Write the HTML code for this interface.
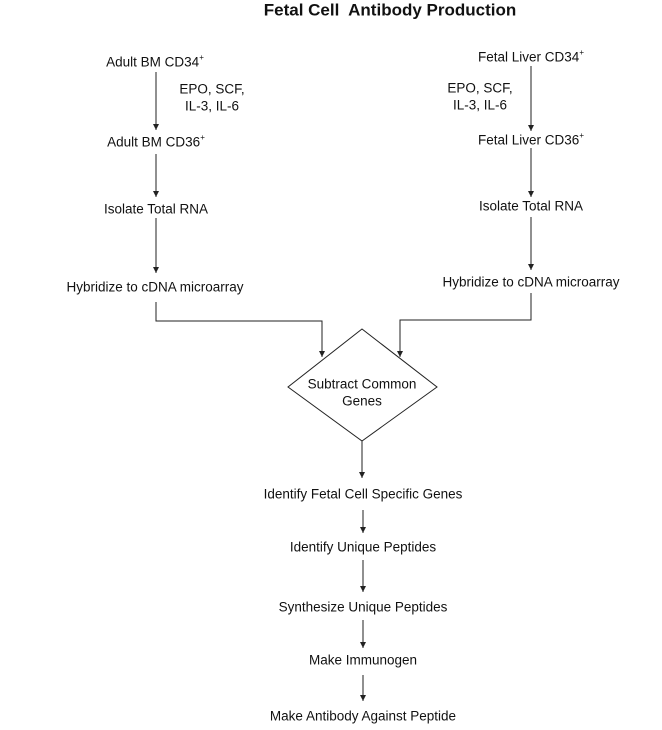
<!DOCTYPE html>
<html><head><style>
body{margin:0;background:#fff;}
svg{display:block;}
text{font-family:"Liberation Sans",Arial,sans-serif;font-size:13.5px;fill:#111;text-anchor:middle;dominant-baseline:middle;}
.t{font-weight:bold;font-size:17px;}
line,polyline,polygon{stroke:#222;stroke-width:1;fill:none;}
</style></head><body>
<svg width="662" height="730" viewBox="0 0 662 730">
<defs><marker id="a" markerWidth="8" markerHeight="8" refX="7" refY="4" orient="auto" markerUnits="userSpaceOnUse"><path d="M1,1 L7,4 L1,7 Z" fill="#222"/></marker></defs>
<text class="t" x="390" y="11" xml:space="preserve">Fetal Cell  Antibody Production</text>

<text x="155" y="63">Adult BM CD34<tspan dy="-5" font-size="8">+</tspan></text>
<line x1="156" y1="72" x2="156" y2="130" marker-end="url(#a)"/>
<text x="212" y="90">EPO, SCF,</text>
<text x="212" y="107">IL-3, IL-6</text>
<text x="156" y="143">Adult BM CD36<tspan dy="-5" font-size="8">+</tspan></text>
<line x1="156" y1="154" x2="156" y2="197" marker-end="url(#a)"/>
<text x="156" y="210">Isolate Total RNA</text>
<line x1="156" y1="218" x2="156" y2="273" marker-end="url(#a)"/>
<text x="155" y="288">Hybridize to cDNA microarray</text>
<polyline points="156,302 156,321 322,321 322,357" marker-end="url(#a)"/>

<text x="531" y="58">Fetal Liver CD34<tspan dy="-5" font-size="8">+</tspan></text>
<line x1="531" y1="66" x2="531" y2="131" marker-end="url(#a)"/>
<text x="480" y="89">EPO, SCF,</text>
<text x="480" y="106">IL-3, IL-6</text>
<text x="531" y="141">Fetal Liver CD36<tspan dy="-5" font-size="8">+</tspan></text>
<line x1="531" y1="148" x2="531" y2="197" marker-end="url(#a)"/>
<text x="531" y="207">Isolate Total RNA</text>
<line x1="531" y1="217" x2="531" y2="270" marker-end="url(#a)"/>
<text x="531" y="283">Hybridize to cDNA microarray</text>
<polyline points="531,293 531,320 400,320 400,357" marker-end="url(#a)"/>

<polygon points="362,329 437,387 362,441 288,387"/>
<text x="362" y="385">Subtract Common</text>
<text x="362" y="402">Genes</text>
<line x1="362" y1="441" x2="362" y2="478" marker-end="url(#a)"/>
<text x="363" y="495">Identify Fetal Cell Specific Genes</text>
<line x1="363" y1="510" x2="363" y2="533" marker-end="url(#a)"/>
<text x="363" y="548">Identify Unique Peptides</text>
<line x1="363" y1="560" x2="363" y2="592" marker-end="url(#a)"/>
<text x="363" y="608">Synthesize Unique Peptides</text>
<line x1="363" y1="620" x2="363" y2="648" marker-end="url(#a)"/>
<text x="363" y="661">Make Immunogen</text>
<line x1="363" y1="675" x2="363" y2="701" marker-end="url(#a)"/>
<text x="363" y="717">Make Antibody Against Peptide</text>
</svg>
</body></html>
